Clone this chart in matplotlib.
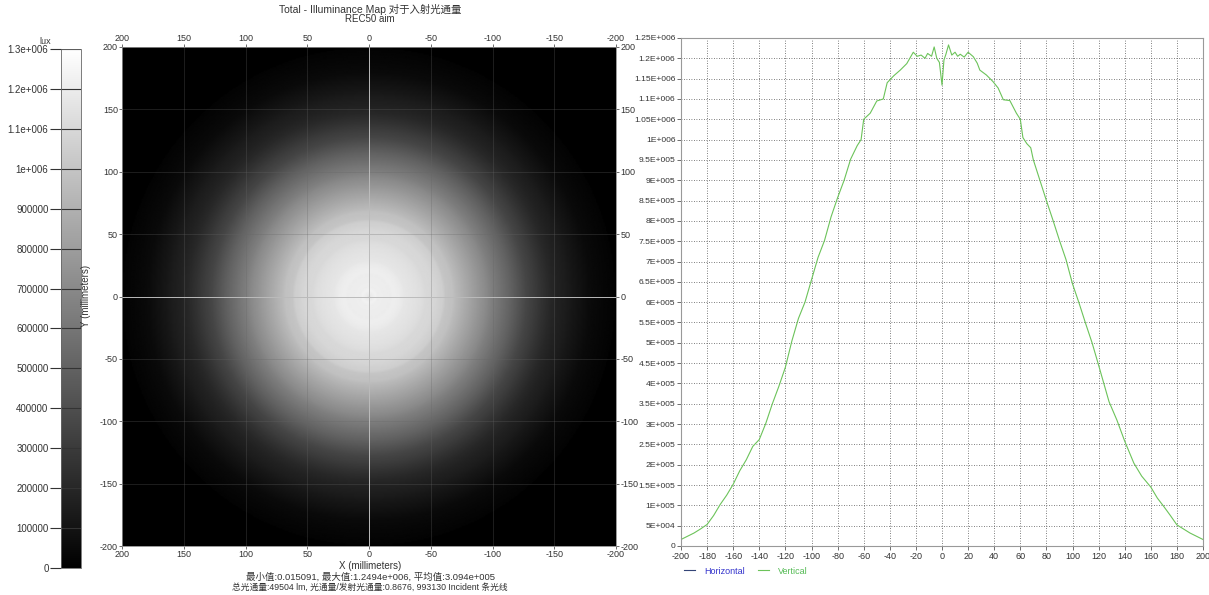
import numpy as np
import matplotlib
matplotlib.use("Agg")
import matplotlib.pyplot as plt
from matplotlib.lines import Line2D

plt.rcParams['font.family'] = ['Liberation Sans', 'Noto Sans CJK SC']
plt.rcParams['font.size'] = 6.5
plt.rcParams['axes.unicode_minus'] = False

# profile through the centre (Vertical)
pos_mm = [-200, -195, -190, -185, -180, -175, -170, -165, -160, -155, -150, -145, -140, -135,
          -130, -125, -120, -115, -110, -105, -100, -95, -90, -85, -80, -75, -70, -65, -62,
          -60, -55, -50, -45, -42, -37, -32, -27, -22, -19, -16, -13, -11, -8, -6, -4, -2,
          0, 1.5, 3, 5, 7.5, 10, 12, 14, 17, 20, 24, 27, 29, 34, 39, 43, 47, 52, 57, 60,
          62, 65, 68, 70, 75, 80, 85, 90, 95, 100, 105, 110, 115, 120, 124, 128, 134, 140,
          147, 153, 160, 165, 170, 175, 180, 185, 190, 195, 200]
vertical = [16000, 24000, 32000, 42000, 53000, 75000, 102000, 125000, 152000, 185000, 212000,
            245000, 262000, 302000, 350000, 393000, 440000, 505000, 560000, 600000, 655000,
            710000, 752000, 810000, 857000, 900000, 952000, 985000, 1000000,
            1050000, 1065000, 1095000, 1100000, 1140000, 1157000, 1171000, 1187000, 1215000,
            1205000, 1208000, 1200000, 1212000, 1205000, 1228000, 1200000, 1190000,
            1134000, 1196000, 1210000, 1233000, 1208000, 1215000, 1205000, 1210000, 1203000,
            1215000, 1204000, 1188000, 1171000, 1159000, 1143000, 1127000, 1098000, 1096000,
            1065000, 1050000, 1005000, 990000, 980000, 950000, 900000, 850000, 802000,
            752000, 705000, 645000, 598000, 548000, 500000, 445000, 400000, 355000, 310000,
            258000, 204000, 172000, 145000, 118000, 97000, 75000, 52000, 42000, 32000,
            24000, 16000]

cbar_ticks = [0, 100000, 200000, 300000, 400000, 500000, 600000, 700000, 800000, 900000,
              1000000, 1100000, 1200000, 1300000]
cbar_labels = ['0', '100000', '200000', '300000', '400000', '500000', '600000', '700000',
               '800000', '900000', '1e+006', '1.1e+006', '1.2e+006', '1.3e+006']
map_ticks = [-200, -150, -100, -50, 0, 50, 100, 150, 200]

W, H = 1209, 595
txt = '#333333'


def fx(px):
    return px / W


def fy(py):
    return 1 - py / H


def efmt(v, _pos=None):
    if v == 0:
        return '0'
    m, e = f"{v:.2E}".split('E')
    m = m.rstrip('0').rstrip('.')
    e = int(e)
    return f"{m}E{'+' if e >= 0 else '-'}{abs(e):03d}"


fig = plt.figure(figsize=(W / 100, H / 100), dpi=100)

# ---- illuminance map, built radially from the profile
xs = np.array(pos_mm, dtype=float)
vs = np.array(vertical, dtype=float)
half = xs >= 0
g = np.linspace(-200, 200, 401)
X, Y = np.meshgrid(g, g)
R = np.hypot(X, Y)
img = np.interp(R, xs[half], vs[half], right=0)

ax = fig.add_axes((fx(122), fy(546), fx(616 - 122), (546 - 47) / H))
im = ax.imshow(img, cmap='gray', vmin=0, vmax=1.3e6, origin='lower',
               extent=(200, -200, -200, 200), aspect='auto', interpolation='bilinear')
ax.set_xlim(200, -200)
ax.set_ylim(-200, 200)
ax.set_xticks(map_ticks)
ax.set_yticks(map_ticks)
ax.tick_params(top=True, right=True, labeltop=True, labelright=True, length=2,
               width=0.5, pad=1, colors=txt, labelsize=6.5)
for t in map_ticks:
    if t != 0:
        ax.axvline(t, color='#666666', lw=0.5, alpha=0.4)
        ax.axhline(t, color='#666666', lw=0.5, alpha=0.4)
ax.axvline(0, color='#bbbbbb', lw=0.7)
ax.axhline(0, color='#bbbbbb', lw=0.7)
for s in ax.spines.values():
    s.set_color('#888888')
    s.set_linewidth(0.6)

fig.text(fx(370), fy(9), 'Total - Illuminance Map 对于入射光通量', ha='center', va='center',
         color=txt, fontsize=7.5)
fig.text(fx(370), fy(19), 'REC50 aim', ha='center', va='center', color=txt, fontsize=7)
fig.text(fx(370), fy(566), 'X (millimeters)', ha='center', va='center', color=txt, fontsize=7)
fig.text(fx(370), fy(577), '最小值:0.015091, 最大值:1.2494e+006, 平均值:3.094e+005',
         ha='center', va='center', color=txt, fontsize=6.8)
fig.text(fx(370), fy(587), '总光通量:49504 lm, 光通量/发射光通量:0.8676, 993130 Incident 条光线',
         ha='center', va='center', color=txt, fontsize=6.3)
fig.text(fx(86), fy(296), 'Y (millimeters)', rotation=90, ha='center', va='center',
         color=txt, fontsize=7)

# ---- colour bar
cax = fig.add_axes((fx(61), fy(568), fx(20), (568 - 49) / H))
cb = fig.colorbar(im, cax=cax)
cb.set_ticks(cbar_ticks)
cb.set_ticklabels(cbar_labels)
cax.yaxis.set_ticks_position('left')
cax.tick_params(length=8, width=0.8, colors=txt, labelsize=7, pad=1)
for t in cbar_ticks:
    cax.axhline(t, color='#333333', lw=0.8)
cb.outline.set_edgecolor('#666666')
cb.outline.set_linewidth(0.6)
fig.text(fx(45), fy(41), 'lux', ha='center', va='center', color=txt, fontsize=6.5)

# ---- profile plot
ax2 = fig.add_axes((fx(681), fy(546), fx(1203 - 681), (546 - 38) / H))
ax2.plot(pos_mm, vertical, color='#6cc35a', lw=0.8)
ax2.set_xlim(-200, 200)
ax2.set_ylim(0, 1.25e6)
ax2.set_xticks(np.arange(-200, 201, 20))
ax2.set_yticks(np.arange(0, 1.25e6 + 1, 5e4))
ax2.yaxis.set_major_formatter(plt.FuncFormatter(efmt))
ax2.grid(True, color='#555555', lw=0.6, linestyle=(0, (1, 2)))
ax2.tick_params(length=3, width=0.5, pad=1, colors=txt, labelsize=6.5)
ax2.tick_params(axis='y', labelsize=6.1)
for s in ax2.spines.values():
    s.set_color('#999999')
    s.set_linewidth(0.8)

handles = [Line2D([], [], color='#334477', lw=0.8), Line2D([], [], color='#6cc35a', lw=0.8)]
leg = fig.legend(handles, ['Horizontal', 'Vertical'], loc='center left',
                 bbox_to_anchor=(fx(676), fy(571)), ncol=2, frameon=False, fontsize=6.5,
                 handlelength=1.2, columnspacing=1.5, handletextpad=1.0)
leg.get_texts()[0].set_color('#3333cc')
leg.get_texts()[1].set_color('#55bb55')

fig.savefig('out.png', dpi=100)
